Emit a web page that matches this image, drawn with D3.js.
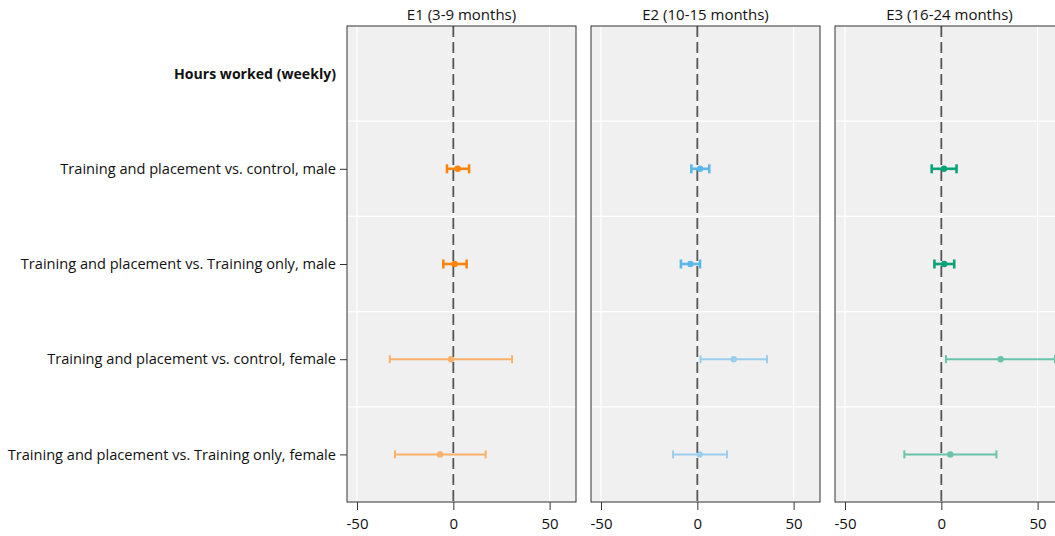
<!DOCTYPE html>
<html><head><meta charset="utf-8">
<script src="https://cdn.jsdelivr.net/npm/d3@7"></script>
<style>body{margin:0;background:#fff}svg{display:block}text{font-family:"Open Sans","Noto Sans",sans-serif;fill:#111}</style>
</head><body>
<script>
const categories = ["Hours worked (weekly)",
  "Training and placement vs. control, male",
  "Training and placement vs. Training only, male",
  "Training and placement vs. control, female",
  "Training and placement vs. Training only, female"];
const waves = ["E1 (3-9 months)", "E2 (10-15 months)", "E3 (16-24 months)"];
const xTicks = [-50, 0, 50];
// estimates per wave, for rows 1..4
const e1Est = [2.3, 0.7, -1.2, -6.9];
const e1Lo  = [-3.3, -5.2, -33.0, -30.3];
const e1Hi  = [8.2, 6.9, 30.5, 16.8];
const e2Est = [1.4, -3.6, 18.9, 1.2];
const e2Lo  = [-3.1, -8.5, 1.7, -12.6];
const e2Hi  = [6.2, 1.4, 36.2, 15.4];
const e3Est = [1.4, 1.5, 30.8, 4.7];
const e3Lo  = [-5.0, -3.6, 2.4, -19.2];
const e3Hi  = [7.9, 6.7, 59.0, 28.6];
const waveColors = ["#FF7F00", "#56B4E9", "#009E73"];
const isFemale = [false, false, true, true];

const W = 1055, H = 536;
const pTop = 26, pBottom = 502, panelW = 229, gap = 15, left0 = 347;
const svg = d3.select("body").append("svg").attr("width", W).attr("height", H);

const x = d3.scaleLinear().domain([-55.2, 63.7]).range([0, panelW]);
const y = d3.scalePoint().domain(categories).range([pTop, pBottom]).padding(0.5);
const step = y.step();

const data = [[e1Est, e1Lo, e1Hi], [e2Est, e2Lo, e2Hi], [e3Est, e3Lo, e3Hi]];

waves.forEach((wname, wi) => {
  const g = svg.append("g").attr("transform", `translate(${left0 + wi * (panelW + gap)},0)`);
  g.append("rect").attr("x", 0).attr("y", pTop).attr("width", panelW).attr("height", pBottom - pTop)
    .attr("fill", "#F0F0F0");
  g.selectAll(".vg").data(xTicks).enter().append("line")
    .attr("x1", d => x(d)).attr("x2", d => x(d)).attr("y1", pTop).attr("y2", pBottom)
    .attr("stroke", "#fff").attr("stroke-width", 1.2);
  g.selectAll(".hg").data(categories.slice(1)).enter().append("line")
    .attr("x1", 0).attr("x2", panelW)
    .attr("y1", d => y(d) - step / 2).attr("y2", d => y(d) - step / 2)
    .attr("stroke", "#fff").attr("stroke-width", 1.2);
  g.append("line").attr("x1", x(0)).attr("x2", x(0)).attr("y1", pTop).attr("y2", pBottom)
    .attr("stroke", "#555").attr("stroke-width", 1.8).attr("stroke-dasharray", "11,5");
  const [est, lo, hi] = data[wi];
  const rows = categories.slice(1).map((c, i) => ({c, est: est[i], lo: lo[i], hi: hi[i], f: isFemale[i]}));
  const eb = g.selectAll(".eb").data(rows).enter().append("g")
    .attr("opacity", d => d.f ? 0.55 : 0.95);
  const col = waveColors[wi];
  eb.append("line").attr("x1", d => x(d.lo)).attr("x2", d => x(d.hi))
    .attr("y1", d => y(d.c)).attr("y2", d => y(d.c))
    .attr("stroke", col).attr("stroke-width", d => d.f ? 2 : 2.6);
  ["lo", "hi"].forEach(k => {
    eb.append("line").attr("x1", d => x(d[k])).attr("x2", d => x(d[k]))
      .attr("y1", d => y(d.c) - (d.f ? 4 : 4.5)).attr("y2", d => y(d.c) + (d.f ? 4 : 4.5))
      .attr("stroke", col).attr("stroke-width", d => d.f ? 2 : 2.6);
  });
  eb.append("circle").attr("cx", d => x(d.est)).attr("cy", d => y(d.c)).attr("r", 3.2)
    .attr("fill", col);
  g.append("rect").attr("x", 0).attr("y", pTop).attr("width", panelW).attr("height", pBottom - pTop)
    .attr("fill", "none").attr("stroke", "#333").attr("stroke-width", 1);
  g.append("text").attr("x", panelW / 2).attr("y", 20).attr("text-anchor", "middle")
    .style("font-size", "15px").text(wname);
  const ax = g.append("g").attr("transform", `translate(0,${pBottom})`)
    .call(d3.axisBottom(x).tickValues(xTicks).tickSize(8).tickPadding(8).tickFormat(d3.format("d")));
  ax.select(".domain").remove();
  ax.selectAll(".tick line").attr("stroke", "#333");
  ax.selectAll("text").style("font-size", "15px").attr("fill", "#111")
    .style("font-family", '"Open Sans","Noto Sans",sans-serif').text(d => d < 0 ? "-" + Math.abs(d) : d);
  if (wi === 0) {
    const ya = svg.append("g").attr("transform", `translate(${left0},0)`)
      .call(d3.axisLeft(y).tickSize(7).tickPadding(4));
    ya.select(".domain").remove();
    ya.selectAll(".tick line").attr("stroke", "#333").attr("opacity", (d, i) => i === 0 ? 0 : 1);
    ya.selectAll("text").style("font-size", (d, i) => i === 0 ? "14.1px" : "14.6px").attr("fill", "#111")
      .style("font-family", '"Open Sans","Noto Sans",sans-serif')
      .style("font-weight", (d, i) => i === 0 ? "bold" : "normal");
  }
});
</script>
</body></html>
